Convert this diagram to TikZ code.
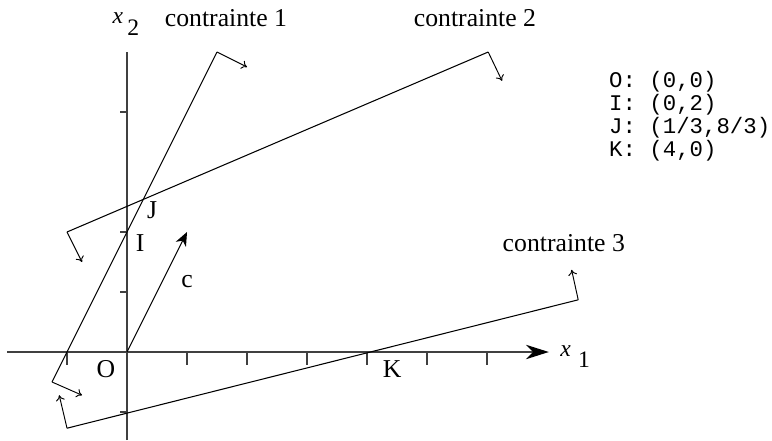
\documentclass[tikz,border=0pt]{standalone}
\usepackage{fontspec}
\setmainfont{Liberation Serif}
\setmonofont{Liberation Mono}
\usetikzlibrary{arrows.meta}

\begin{document}
\begin{tikzpicture}[>=To,
  axis/.style={line width=.6pt,black!75},
  cline/.style={line width=.5pt},
  normal/.style={->,line width=.45pt,>={To[length=2.6pt,width=4.2pt]}},
  lbl/.style={font=\fontsize{12.2}{14}\selectfont,inner sep=0pt,anchor=base}]
\useasboundingbox (-2.117,-1.467) rectangle (10.75,5.867);
% axes
\coordinate (xa) at (-2,0);
\coordinate (xb) at (7.03,0);
\coordinate (ya) at (0,-1.47);
\coordinate (yb) at (0,5);
\draw[axis,-{Stealth[length=.38cm,width=.24cm,inset=.12cm,color=black]}] (xa)--(xb);
\draw[axis] (ya)--(yb);
\foreach \i in {-1,1,2,3,4,5,6} \draw[axis] (\i,0)--(\i,-.22);
\foreach \j in {-1,1,2,4} \draw[axis] (0,\j)--(-.12,\j);
% contrainte 1
\coordinate (c1a) at (-1.25,-.5);
\coordinate (c1b) at (1.5,5);
\coordinate (n1a) at (-.75,-.72);
\coordinate (n1b) at (2,4.75);
\draw[cline] (c1a)--(c1b);
\draw[normal] (c1a)--(n1a);
\draw[normal] (c1b)--(n1b);
% contrainte 2
\coordinate (c2a) at (-1,2);
\coordinate (c2b) at (6.02,5);
\coordinate (n2a) at (-.75,1.5);
\coordinate (n2b) at (6.25,4.52);
\draw[cline] (c2a)--(c2b);
\draw[normal] (c2a)--(n2a);
\draw[normal] (c2b)--(n2b);
% contrainte 3
\coordinate (c3a) at (-1,-1.27);
\coordinate (c3b) at (7.52,.87);
\coordinate (n3a) at (-1.13,-.72);
\coordinate (n3b) at (7.41,1.37);
\draw[cline] (c3a)--(c3b);
\draw[normal] (c3a)--(n3a);
\draw[normal] (c3b)--(n3b);
% vecteur c
\coordinate (O) at (0,0);
\coordinate (ct) at (1,2);
\draw[cline,-{Stealth[length=.23cm,width=.19cm,inset=.07cm]}] (O)--(ct);
% labels
\node[lbl,font=\fontsize{11.2}{13}\selectfont] (lx2) at (-.02,5.47) {\textit{x}\hspace{2pt}\raisebox{-5.5pt}{2}};
\node[lbl,font=\fontsize{11.2}{13}\selectfont] (lx1) at (7.47,-.07) {\textit{x}\hspace{3.5pt}\raisebox{-5.5pt}{1}};
\node[lbl] (t1) at (1.65,5.43) {contrainte 1};
\node[lbl] (t2) at (5.8,5.43) {contrainte 2};
\node[lbl] (t3) at (7.28,1.67) {contrainte 3};
\node[lbl] (lJ) at (.42,2.22) {J};
\node[lbl] (lI) at (.22,1.68) {I};
\node[lbl] (lc) at (1.0,1.07) {c};
\node[lbl] (lO) at (-.35,-.42) {O};
\node[lbl] (lK) at (4.42,-.43) {K};
\node[font=\fontsize{10.6}{11}\selectfont\ttfamily,align=left,anchor=north west,inner sep=0pt] (tab) at (8.03,4.69)
  {O: (0,0)\\I: (0,2)\\J: (1/3,8/3)\\K: (4,0)};
\end{tikzpicture}
\end{document}
